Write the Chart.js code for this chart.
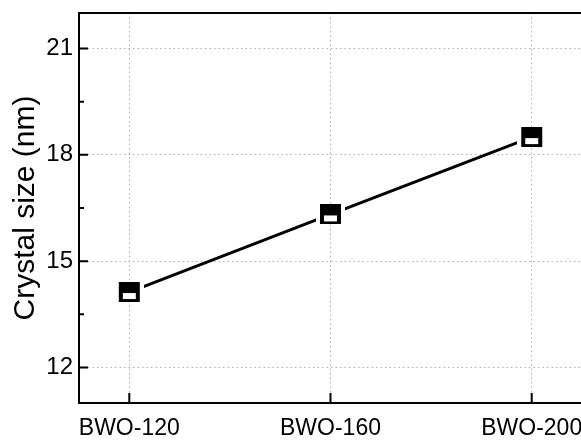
<!DOCTYPE html>
<html>
<head>
<meta charset="utf-8">
<script src="https://cdn.jsdelivr.net/npm/chart.js@4/dist/chart.umd.min.js"></script>
<style>
  html, body { margin: 0; padding: 0; background: #fff; overflow: hidden; }
  #wrap { width: 600px; height: 441px; }
</style>
</head>
<body>
<div id="wrap"><canvas id="c" width="600" height="441"></canvas></div>
<script>
// Samples and measured crystallite sizes
const categories = ['BWO-120', 'BWO-160', 'BWO-200'];
const crystalSize = [14.13, 16.32, 18.50];

// Axis ticks
const yMajorTicks = [12, 15, 18, 21];
const yMinorTicks = [13.5, 16.5, 19.5];
const xTickPositions = [0, 1, 2];

const FONT = "'Liberation Sans', Arial, sans-serif";

// Half-filled square symbol, with white side margins so the line stops short of it
function makeSymbol() {
  const w = 21, h = 20, gap = 4;
  const cv = document.createElement('canvas');
  cv.width = w + gap * 2;
  cv.height = h;
  const g = cv.getContext('2d');
  g.fillStyle = '#fff';
  g.fillRect(0, 0, cv.width, cv.height);
  g.fillStyle = '#000';
  g.fillRect(gap, 0, w, h);
  g.fillStyle = '#fff';
  g.fillRect(gap + 4, 11, w - 8, 6);
  return cv;
}

// Inward tick marks and the box frame around the plot
const framePlugin = {
  id: 'frame',
  afterDraw(chart) {
    const { ctx, chartArea: a, scales } = chart;
    const xs = scales.x, ys = scales.y;
    ctx.save();
    ctx.strokeStyle = '#000';
    ctx.lineWidth = 2;
    ctx.beginPath();
    yMajorTicks.forEach(v => {
      const y = ys.getPixelForValue(v);
      ctx.moveTo(a.left, y); ctx.lineTo(a.left + 9, y);
    });
    yMinorTicks.forEach(v => {
      const y = ys.getPixelForValue(v);
      ctx.moveTo(a.left, y); ctx.lineTo(a.left + 5, y);
    });
    xTickPositions.forEach(v => {
      const x = xs.getPixelForValue(v);
      ctx.moveTo(x, a.bottom); ctx.lineTo(x, a.bottom - 10);
    });
    ctx.stroke();
    ctx.strokeRect(a.left, a.top, a.right - a.left, a.bottom - a.top);
    ctx.restore();
  }
};

// Keep the plot box fixed: no extra edge padding reserved for tick labels
function noEdgePadding(s) {
  s.paddingTop = 0; s.paddingBottom = 0; s.paddingLeft = 0; s.paddingRight = 0;
}

const symbol = makeSymbol();

new Chart(document.getElementById('c'), {
  type: 'scatter',
  data: {
    datasets: [{
      data: categories.map((c, i) => ({ x: i, y: crystalSize[i] })),
      showLine: true,
      borderColor: '#000',
      borderWidth: 3,
      tension: 0,
      pointStyle: symbol,
      pointRadius: 10,
      pointHoverRadius: 10
    }]
  },
  options: {
    responsive: false,
    animation: false,
    devicePixelRatio: 1,
    layout: { padding: { left: 0, top: 13, right: 18, bottom: 0 } },
    plugins: { legend: { display: false }, tooltip: { enabled: false } },
    scales: {
      x: {
        type: 'linear',
        min: -0.25,
        max: 2.25,
        afterBuildTicks: s => { s.ticks = xTickPositions.map(v => ({ value: v })); },
        afterFit: s => { s.height = 38; noEdgePadding(s); },
        ticks: {
          autoSkip: false,
          maxRotation: 0,
          padding: 12,
          color: '#000',
          font: { family: FONT, size: 23 },
          callback: v => categories[v] ?? ''
        },
        grid: { color: '#b0b0b0', lineWidth: 1, drawTicks: false },
        border: { display: false, dash: [1.5, 3] }
      },
      y: {
        min: 11,
        max: 22,
        afterBuildTicks: s => {
          s.ticks = [...yMajorTicks, ...yMinorTicks].sort((a, b) => a - b).map(v => ({ value: v }));
        },
        afterFit: s => { s.width = 79; noEdgePadding(s); },
        ticks: {
          autoSkip: false,
          padding: 6,
          color: '#000',
          font: { family: FONT, size: 24 },
          callback: v => yMajorTicks.includes(v) ? String(v) : ''
        },
        grid: {
          color: c => (c.tick && yMajorTicks.includes(c.tick.value)) ? '#b0b0b0' : 'rgba(0,0,0,0)',
          lineWidth: 1,
          drawTicks: false
        },
        border: { display: false, dash: [1.5, 3] },
        title: {
          display: true,
          text: 'Crystal size (nm)',
          color: '#000',
          font: { family: FONT, size: 30 },
          padding: { top: 8, bottom: 0 }
        }
      }
    }
  },
  plugins: [framePlugin]
});
</script>
</body>
</html>
